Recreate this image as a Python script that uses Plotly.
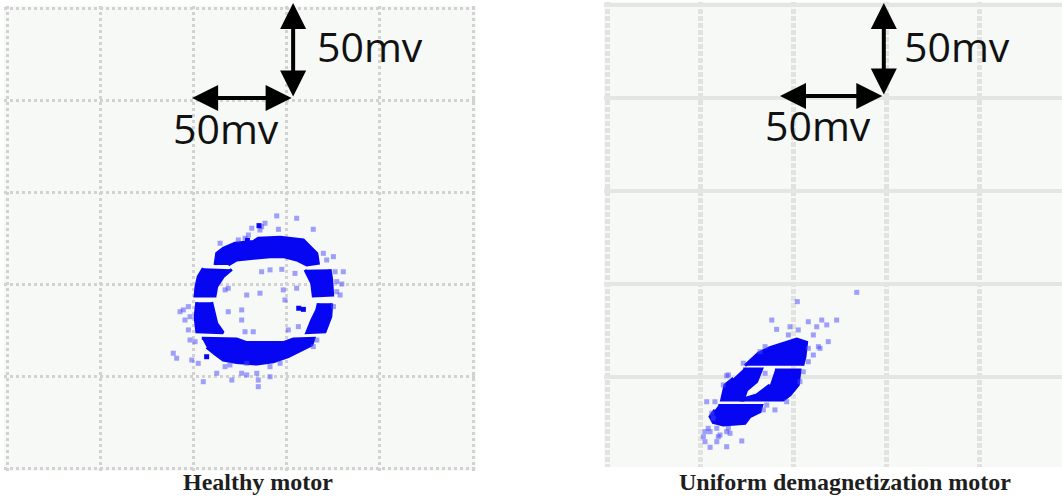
import plotly.graph_objects as go

# ---------------- Healthy motor (XY trace, mV) ----------------
# Dense part of the Lissajous ring, outlined band by band (None separates bands)
healthy_band_x = [111.6, 112.5, 116.0, 122.3, 132.1, 134.8, 146.5, 159.0, 162.6, 166.2, 167.0,
                  160.8, 155.4, 148.2, 141.1, 133.1, 123.2, 118.7, None,
                  105.3, 102.6, 101.4, 100.9, 111.6, 112.5, 116.0, 120.6, None,
                  173.3, 174.2, 174.7, 164.3, 163.5, 159.9, None,
                  101.8, 100.9, 101.8, 116.0, 112.5, 110.7, 109.8, None,
                  174.2, 173.7, 170.6, 160.8, 163.5, 166.2, 167.0, None,
                  104.5, 123.2, 128.6, 148.2, 153.6, 164.7, 163.5, 158.1, 150.9, 142.9,
                  134.0, 123.2, 116.0, 111.6, 107.1]
healthy_band_y = [110.6, 116.9, 119.7, 122.4, 123.3, 125.1, 125.7, 124.2, 120.5, 116.9, 111.5,
                  110.6, 113.3, 115.1, 115.1, 114.2, 113.3, 110.6, None,
                  108.8, 104.2, 98.8, 93.7, 93.7, 98.8, 104.2, 108.2, None,
                  108.2, 102.4, 94.2, 93.7, 100.6, 107.9, None,
                  90.3, 82.4, 74.2, 73.7, 78.8, 86.1, 90.3, None,
                  89.7, 82.4, 74.2, 73.7, 80.6, 86.1, 89.7, None,
                  70.6, 70.3, 68.3, 68.3, 70.3, 70.6, 67.0, 64.3, 60.6, 57.9,
                  56.6, 57.4, 58.8, 62.1, 65.7]

# Sparse samples around the ring
healthy_pts_x = [144.7, 155.4, 138.4, 136.6, 131.3, 135.7, 145.6, 164.3, 129.5, 127.7,
                 169.7, 175.1, 176.0, 180.4, 179.6, 176.9, 178.7, 175.1, 136.6, 141.1,
                 147.4, 148.2, 155.4, 154.5, 118.7, 117.0, 118.7, 125.9, 132.1, 127.7,
                 156.3, 150.9, 94.6, 92.8, 97.3, 95.5, 98.2, 89.2, 91.0, 99.1,
                 102.6, 112.5, 120.6, 125.9, 128.6, 134.0, 134.8, 141.1, 128.6, 141.1,
                 117.0, 105.3, 134.8, 114.3, 124.1, 171.5, 176.9, 98.2, 97.3, 100.9,
                 164.3, 166.2, 119.6, 146.5, 128.6, 135.7, 149.1, 125.9]
healthy_pts_y = [137.3, 136.0, 133.3, 131.4, 130.6, 129.6, 130.0, 130.0, 126.9, 125.1,
                 116.9, 115.1, 106.9, 106.9, 100.2, 96.0, 94.2, 87.9, 106.9, 107.9,
                 108.2, 97.0, 97.9, 106.0, 97.9, 97.0, 85.1, 80.6, 74.2, 74.2,
                 77.0, 75.2, 86.1, 85.1, 87.9, 80.6, 69.7, 62.5, 59.8, 58.8,
                 57.0, 51.6, 47.9, 51.6, 50.7, 51.6, 47.9, 49.7, 57.0, 55.2,
                 55.2, 47.0, 44.3, 122.4, 124.2, 113.3, 101.5, 82.4, 75.2, 68.8,
                 66.1, 69.7, 56.1, 57.0, 94.2, 95.2, 91.5, 86.1]

# Strong isolated samples
healthy_dark_x = [159.0, 156.5, 107.1, 135.2, 129.0]
healthy_dark_y = [86.4, 87.0, 60.6, 132.0, 124.0]

# ---------------- Uniform demagnetization motor (XY trace, mV) ----------------
demag_band_x = [74.0, 81.2, 87.4, 96.4, 101.8, 107.1, 106.2, 105.0, None,
                73.1, 83.0, 80.3, 74.9, 73.1, 61.5, 63.3, 67.8, None,
                90.1, 103.5, 102.6, 98.2, 94.6, 71.4, 80.3, 87.4, None,
                59.7, 83.0, 82.1, 76.7, 74.0, 62.4, 57.0, 55.3, 57.9]
demag_band_y = [56.1, 62.7, 65.8, 68.6, 70.4, 68.6, 60.9, 56.1, None,
                54.3, 54.3, 47.5, 43.0, 37.6, 37.6, 45.7, 49.3, None,
                53.8, 53.8, 45.7, 40.3, 37.6, 37.6, 40.3, 45.7, None,
                34.6, 34.6, 31.3, 28.7, 25.1, 24.2, 25.6, 28.7, 32.3]

demag_pts_x = [52.6, 54.3, 58.9, 60.6, 65.1, 66.0, 51.7, 52.6, 55.3, 58.9,
               64.2, 72.3, 88.4, 91.0, 98.2, 102.6, 108.0, 112.5, 115.2, 117.9,
               123.2, 110.7, 102.1, 134.0, 114.3, 118.7, 110.7, 113.4, 97.3, 90.1,
               96.4, 64.2, 53.5, 64.2, 59.7, 84.8, 57.0, 55.3, 84.8, 82.1,
               73.1, 65.1, 62.4, 57.9, 56.2, 83.9, 85.7, 103.5, 105.3, 108.0, 108.0]
demag_pts_y = [20.6, 22.4, 22.4, 18.8, 22.4, 19.7, 17.9, 15.2, 12.2, 15.2,
               12.5, 15.6, 80.6, 75.6, 77.0, 75.3, 79.7, 77.0, 80.6, 78.0,
               80.6, 72.6, 90.5, 95.5, 65.4, 69.0, 61.8, 66.3, 72.6, 32.3,
               36.7, 50.7, 36.7, 20.6, 17.9, 52.0, 27.8, 20.6, 66.3, 63.6,
               57.4, 51.1, 45.7, 36.7, 30.5, 32.3, 34.9, 47.5, 52.8, 58.2, 65.4]

captions = ["Healthy motor", "Uniform demagnetization motor"]
scale_label = "50mv"

BLUE = "#0606f2"
LIGHT = "rgba(70,70,255,0.5)"

fig = go.Figure()

panels = [
    ("x", "y", healthy_band_x, healthy_band_y, healthy_pts_x, healthy_pts_y, healthy_dark_x, healthy_dark_y),
    ("x2", "y2", demag_band_x, demag_band_y, demag_pts_x, demag_pts_y, [], []),
]
for xa, ya, bx, by, px, py, dx, dy in panels:
    fig.add_trace(go.Scatter(x=bx, y=by, xaxis=xa, yaxis=ya, mode="lines",
                             fill="toself", fillcolor=BLUE,
                             line=dict(color=BLUE, width=3), hoverinfo="skip"))
    fig.add_trace(go.Scatter(x=px, y=py, xaxis=xa, yaxis=ya, mode="markers",
                             marker=dict(symbol="square", size=5, color=LIGHT,
                                         line=dict(width=0))))
    if dx:
        fig.add_trace(go.Scatter(x=dx, y=dy, xaxis=xa, yaxis=ya, mode="markers",
                                 marker=dict(symbol="square", size=5, color=BLUE,
                                             line=dict(width=0))))

grid_common = dict(tick0=0, dtick=50, showticklabels=False, ticks="",
                   zeroline=False, showline=False, fixedrange=True)

fig.update_layout(
    width=1062, height=497,
    margin=dict(l=0, r=0, t=0, b=0),
    paper_bgcolor="white",
    plot_bgcolor="#f6f9f6",
    showlegend=False,
    xaxis=dict(domain=[0.00377, 0.44821], range=[-1.61, 251.6], anchor="y",
               gridcolor="#d2d2d2", gridwidth=2.5, griddash="3px,3px", **grid_common),
    yaxis=dict(domain=[0.05231, 0.98793], range=[-1.63, 251.6], anchor="x",
               gridcolor="#d2d2d2", gridwidth=2.5, griddash="3px,3px", **grid_common),
    xaxis2=dict(domain=[0.56874, 1.0], range=[-1.61, 244.1], anchor="y2",
                gridcolor="#e0e3e0", gridwidth=5, griddash="5px,2px", **grid_common),
    yaxis2=dict(domain=[0.06036, 0.99598], range=[1.6, 251.6], anchor="x2",
                gridcolor="#e3e6e3", gridwidth=4, **grid_common),
)

# Scale arrows (one division = 50 mV) and their labels
scale_bars = [
    ("x", "y", 153.5, 201.5, 99.3, 253.3, (194.7, 229.9), (117.5, 185.2)),
    ("x2", "y2", 148.5, 201.0, 92.8, 251.0, (187.8, 227.9), (113.2, 185.5)),
]
for xa, ya, cx, cy, left, top, lab_v, lab_h in scale_bars:
    for (x0, y0, x1, y1) in [(cx, cy, left, cy), (cx, cy, cx, top)]:
        fig.add_annotation(x=x1, y=y1, ax=x0, ay=y0, xref=xa, yref=ya,
                           axref=xa, ayref=ya, text="", showarrow=True,
                           arrowhead=2, startarrowhead=2, arrowside="end+start",
                           arrowwidth=4, arrowsize=1.3, startarrowsize=1.3,
                           arrowcolor="black", standoff=0, startstandoff=0)
    for (lx, ly) in (lab_v, lab_h):
        fig.add_annotation(x=lx, y=ly, xref=xa, yref=ya, text=scale_label,
                           showarrow=False,
                           font=dict(family="Open Sans", size=41, color="#111111"))

for text, xc in zip(captions, [0.243, 0.7957]):
    fig.add_annotation(x=xc, y=0.031, xref="paper", yref="paper", text=text,
                       xanchor="center", yanchor="middle", showarrow=False,
                       font=dict(family="Liberation Serif", size=24,
                                 color="#1e1e1e", weight="bold"))

fig.write_html("out.html")
